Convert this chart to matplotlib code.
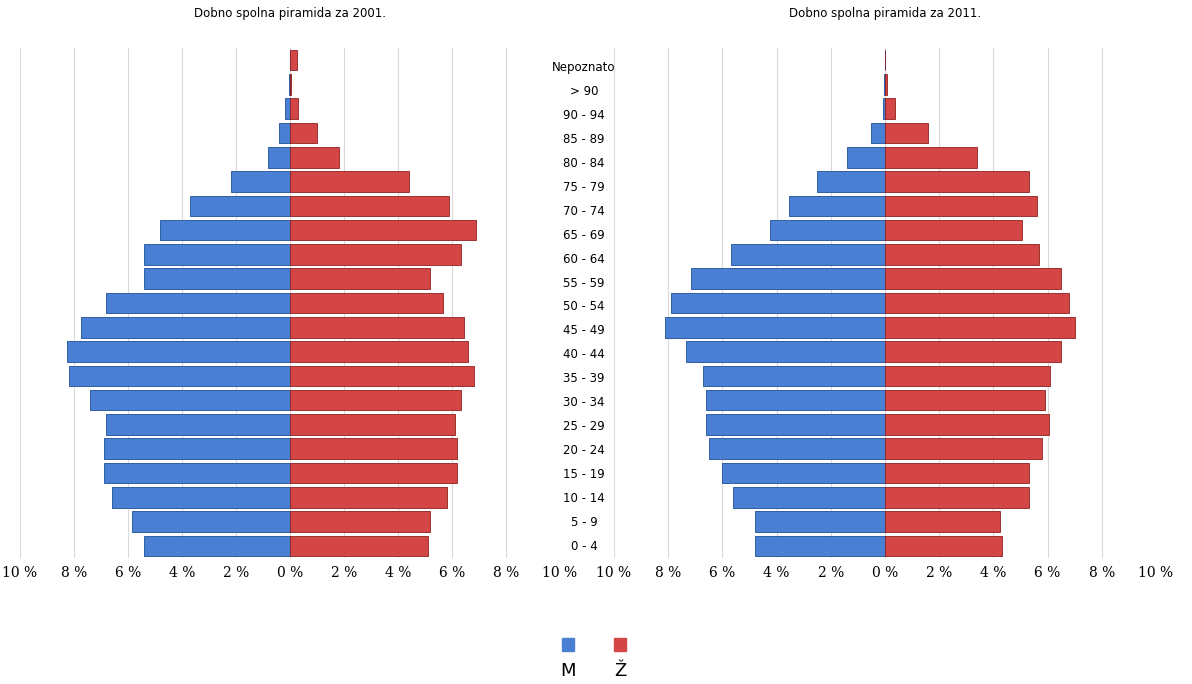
import numpy as np
import matplotlib.pyplot as plt

ages = ["0 - 4", "5 - 9", "10 - 14", "15 - 19", "20 - 24", "25 - 29", "30 - 34",
        "35 - 39", "40 - 44", "45 - 49", "50 - 54", "55 - 59", "60 - 64", "65 - 69",
        "70 - 74", "75 - 79", "80 - 84", "85 - 89", "90 - 94", "> 90", "Nepoznato"]

# percentages, bottom (0-4) to top (Nepoznato)
m_2001 = [5.4, 5.85, 6.6, 6.9, 6.9, 6.8, 7.4, 8.2, 8.25, 7.75, 6.8, 5.4, 5.4, 4.8,
          3.7, 2.2, 0.8, 0.4, 0.18, 0.03, 0.0]
f_2001 = [5.1, 5.2, 5.8, 6.2, 6.2, 6.1, 6.35, 6.8, 6.6, 6.45, 5.65, 5.2, 6.35, 6.9,
          5.9, 4.4, 1.8, 1.0, 0.3, 0.05, 0.25]
m_2011 = [4.8, 4.8, 5.6, 6.0, 6.5, 6.6, 6.6, 6.7, 7.35, 8.1, 7.9, 7.15, 5.7, 4.25,
          3.55, 2.5, 1.4, 0.5, 0.07, 0.02, 0.0]
f_2011 = [4.3, 4.25, 5.3, 5.3, 5.8, 6.05, 5.9, 6.1, 6.5, 7.0, 6.8, 6.5, 5.7, 5.05,
          5.6, 5.3, 3.4, 1.6, 0.37, 0.08, 0.0]

titles = ["Dobno spolna piramida za 2001.", "Dobno spolna piramida za 2011."]
BLUE, RED = "#4a80d4", "#d44545"

W, H = 1192, 684
fig = plt.figure(figsize=(W / 100, H / 100), dpi=100)

def px_axes(x0, x1, y0, y1):
    return fig.add_axes([x0 / W, 1 - y1 / H, (x1 - x0) / W, (y1 - y0) / H])

y = np.arange(len(ages))
ticks = np.arange(-10, 11, 2)
axes = [px_axes(20, 560, 48, 558), px_axes(614, 1156, 48, 558)]
for ax, m, f, t in zip(axes, [m_2001, m_2011], [f_2001, f_2011], titles):
    ax.barh(y, -np.array(m), height=0.85, color=BLUE, edgecolor="#1f4f9a", lw=0.6, zorder=3)
    ax.barh(y, f, height=0.85, color=RED, edgecolor="#8f2020", lw=0.6, zorder=3)
    ax.set_xlim(-10, 10)
    ax.set_ylim(-0.5, len(ages) - 0.5)
    ax.set_xticks(ticks)
    ax.set_xticklabels([f"{abs(v)} %" for v in ticks], family="DejaVu Serif", fontsize=10)
    ax.tick_params(length=0, pad=6)
    ax.set_yticks([])
    ax.grid(axis="x", color="#d9d9d9", lw=0.8, zorder=0)
    for s in ax.spines.values():
        s.set_visible(False)
    ax.set_title(t, fontsize=8.5, pad=22)

for i, a in enumerate(ages):
    fig.text(584 / W, 1 - (546 - i * 23.9) / H, a, ha="center", va="center", fontsize=8.5)

# legend
for xc, c, lab in [(568, BLUE, "M"), (620, RED, "Ž")]:
    fig.patches.append(plt.Rectangle(((xc - 6) / W, 1 - 651 / H), 12 / W, 13 / H,
                                     transform=fig.transFigure, color=c))
    fig.text(xc / W, 1 - 671 / H, lab, ha="center", va="center", fontsize=13)

fig.savefig("out.png", dpi=100)
